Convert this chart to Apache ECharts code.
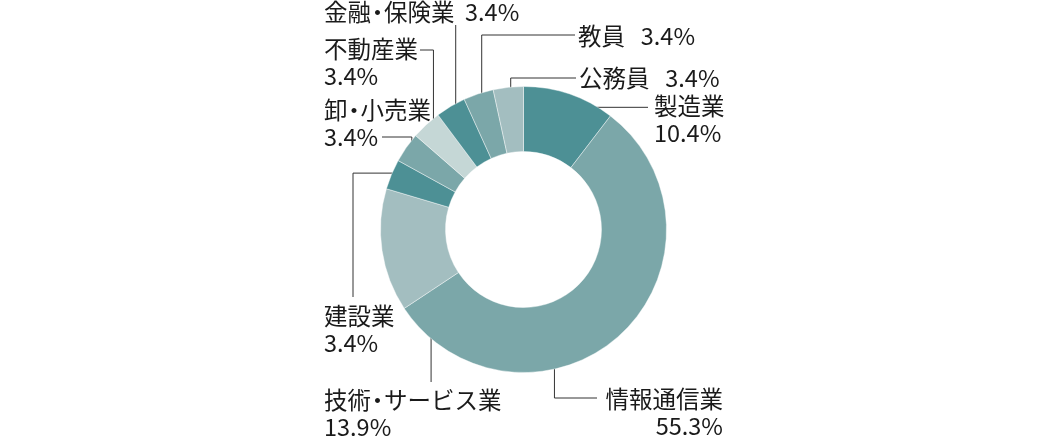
<!DOCTYPE html>
<html><head><meta charset="utf-8">
<script src="https://cdn.jsdelivr.net/npm/echarts@6/dist/echarts.min.js"></script>
<style>html,body{margin:0;padding:0;background:#fff}#c{width:1050px;height:436px}</style>
</head><body><div id="c"></div>
<script>
// ---- data ----
const categories = ['製造業','情報通信業','技術・サービス業','建設業','卸・小売業','不動産業','金融・保険業','教員','公務員'];
const values = [10.4, 55.3, 13.9, 3.4, 3.4, 3.4, 3.4, 3.4, 3.4];
const valueLabels = ['10.4%','55.3%','13.9%','3.4%','3.4%','3.4%','3.4%','3.4%','3.4%'];

// ---- styles / layout ----
const C_DARK='#4d9095', C_MED='#7ba7a9', C_LIGHT='#a3bec0', C_VLIGHT='#c5d7d6';
const colors=[C_DARK,C_MED,C_LIGHT,C_DARK,C_MED,C_VLIGHT,C_DARK,C_MED,C_LIGHT];
const CX=523.5, CY=229.5, R_IN=78, R_OUT=143;
const FONT='"Noto Sans CJK JP", sans-serif', FS=23.5, LH=27, TXT='#1a1a1a';
// label placement: anchor within slice (t = fraction of slice, r = radius), label box, elbow route, separator
const layout=[
  {t:0.50,r:129,x:654,y:106.5,align:'left', sep:'\n', route:a=>[[648,a[1]]]},
  {t:0.63,r:105,x:723,y:399,align:'right',sep:'\n', route:a=>[[a[0],398],[597,398]]},
  {t:0.22,r:100,x:324,y:400,align:'left', sep:'\n', route:a=>[[a[0],382]]},
  {t:0.68,r:134,x:324,y:316,align:'left', sep:'\n', route:a=>[[353,a[1]],[353,297]]},
  {t:0.54,r:137,x:324,y:110,align:'left', sep:'\n', route:a=>[[a[0],137],[382,137]]},
  {t:0.55,r:134,x:324,y:49, align:'left', sep:'\n', route:a=>[[a[0],50],[420,50]]},
  {t:0.41,r:129,x:324,y:12, align:'left', sep:'  ', route:a=>[[a[0],25]]},
  {t:0.48,r:131,x:578,y:36, align:'left', sep:'   ', route:a=>[[a[0],35],[575,35]]},
  {t:0.52,r:125,x:579,y:78, align:'left', sep:'   ', route:a=>[[a[0],78],[576,78]]}
];
const total=values.reduce((s,v)=>s+v,0);
const cumStart=[]; values.reduce((s,v,i)=>{cumStart[i]=s;return s+v;},0);
function anchor(i){
  const L=layout[i];
  const th=(cumStart[i]+L.t*values[i])/total*2*Math.PI;
  return [CX+L.r*Math.sin(th), CY-L.r*Math.cos(th)];
}
const base={fontFamily:FONT,fontSize:FS,lineHeight:LH,color:TXT};

const chart=echarts.init(document.getElementById('c'),null,{renderer:'canvas'});
chart.setOption({
  animation:false,
  backgroundColor:'#fff',
  series:[{
    type:'pie',
    silent:true,
    center:[CX,CY],
    radius:[R_IN,R_OUT],
    startAngle:90,
    clockwise:true,
    avoidLabelOverlap:false,
    itemStyle:{borderColor:'rgba(255,255,255,0.7)',borderWidth:0.6},
    label:Object.assign({
      show:true,position:'outside',
      formatter:p=> p.name.replace(/・/g,'{d|・}')+layout[p.dataIndex].sep+valueLabels[p.dataIndex],
      rich:{d:Object.assign({width:13,align:'center'},base)}
    },base),
    labelLine:{show:true,length:10,length2:10,lineStyle:{color:'#333',width:1}},
    labelLayout:function(params){
      const i=params.dataIndex, L=layout[i];
      const a=anchor(i);
      return {
        x:L.x, y:L.y-LH/2, align:L.align, verticalAlign:'top',
        labelLinePoints:[a].concat(L.route(a))
      };
    },
    data:categories.map((c,i)=>({name:c,value:values[i],itemStyle:{color:colors[i]}}))
  }]
});
</script></body></html>
